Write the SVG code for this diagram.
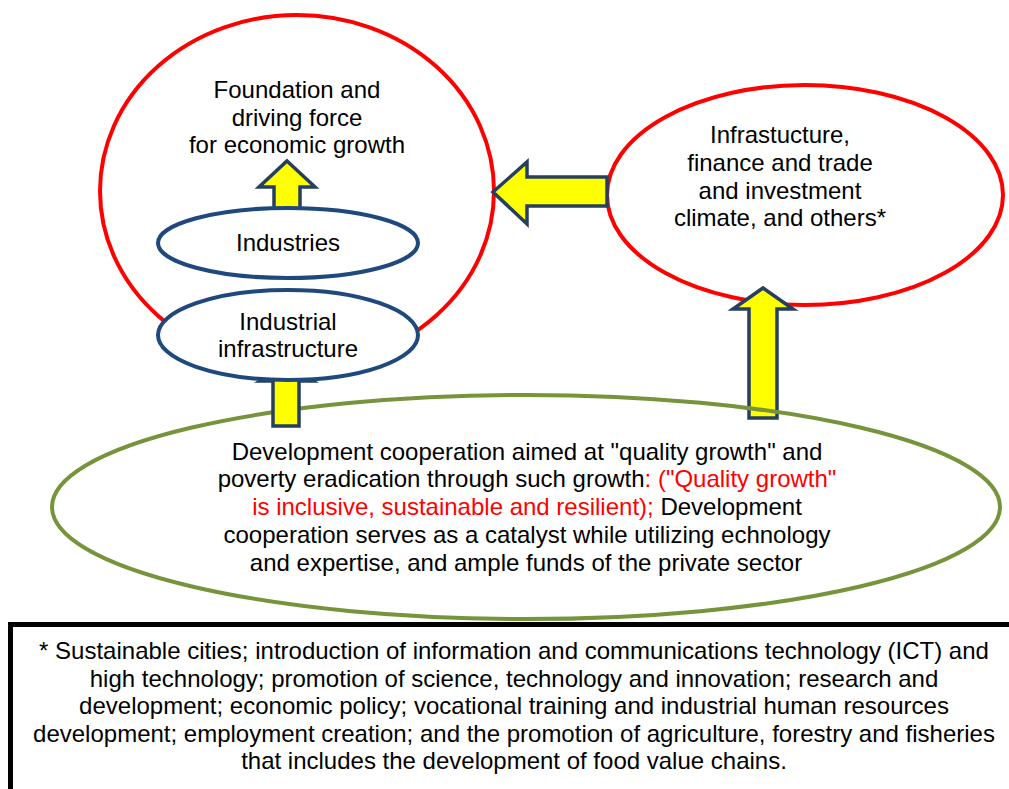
<svg xmlns="http://www.w3.org/2000/svg" width="1009" height="789" viewBox="0 0 1009 789">
<style>
  .t { font-family: "Liberation Sans", Arial, sans-serif; font-size: 24px; fill: #000; text-anchor: middle; }
  .red { fill: #FF0000; }
  .redc { fill: none; stroke: #FF0000; stroke-width: 4; }
  .blue { fill: #fff; stroke: #1F497D; stroke-width: 4; }
  .green { fill: none; stroke: #77933C; stroke-width: 4; }
  .arrow { fill: #FFFF00; stroke: #243F60; stroke-width: 3.5; stroke-linejoin: miter; }
</style>
<rect width="1009" height="789" fill="#fff"/>
<g id="foundation">
  <ellipse class="redc" cx="297" cy="191" rx="197" ry="176"/>
  <text class="t" x="297" y="98">Foundation and</text>
  <text class="t" x="297" y="126">driving force</text>
  <text class="t" x="297" y="153">for economic growth</text>
</g>
<g id="infra-finance">
  <ellipse class="redc" cx="805" cy="195" rx="198" ry="110"/>
  <text class="t" x="780" y="143">Infrastucture,</text>
  <text class="t" x="780" y="171">finance and trade</text>
  <text class="t" x="780" y="199">and investment</text>
  <text class="t" x="780" y="226">climate, and others*</text>
</g>
<g id="connectors">
  <polygon class="arrow" points="287,161 315,187 300,187 300,212 274,212 274,187 259,187"/>
  <polygon class="arrow" points="493,192 527,162 527,177 607,177 607,206 527,206 527,224"/>
  <polygon class="arrow" points="763,288 793,309 777,309 777,418 749,418 749,309 733,309"/>
</g>
<g id="cooperation">
  <ellipse class="green" cx="526" cy="507" rx="474" ry="112" fill="#fff"/>
  <text class="t" x="527" y="460">Development cooperation aimed at "quality growth" and</text>
  <text class="t" x="527" y="487">poverty eradication through such growth<tspan class="red">: ("Quality growth"</tspan></text>
  <text class="t" x="527" y="515"><tspan class="red">is inclusive, sustainable and resilient);</tspan> Development</text>
  <text class="t" x="527" y="543">cooperation serves as a catalyst while utilizing echnology</text>
  <text class="t" x="526" y="571">and expertise, and ample funds of the private sector</text>
</g>
<g id="connectors2">
  <polygon class="arrow" points="287,364 313,381 299,381 299,426 273,426 273,381 260,381"/>
</g>
<g id="industries">
  <ellipse class="blue" cx="288" cy="243" rx="130" ry="35"/>
  <text class="t" x="288" y="251">Industries</text>
</g>
<g id="industrial-infrastructure">
  <ellipse class="blue" cx="288" cy="335" rx="130" ry="45"/>
  <text class="t" x="288" y="330">Industrial</text>
  <text class="t" x="288" y="357">infrastructure</text>
</g>
<g id="note">
  <rect x="10.5" y="624.5" width="1010" height="200" fill="#fff" stroke="#000" stroke-width="5"/>
  <text class="t" x="514" y="659">* Sustainable cities; introduction of information and communications technology (ICT) and</text>
  <text class="t" x="514" y="687">high technology; promotion of science, technology and innovation; research and</text>
  <text class="t" x="514" y="714">development; economic policy; vocational training and industrial human resources</text>
  <text class="t" x="514" y="742">development; employment creation; and the promotion of agriculture, forestry and fisheries</text>
  <text class="t" x="514" y="769">that includes the development of food value chains.</text>
</g>
</svg>
